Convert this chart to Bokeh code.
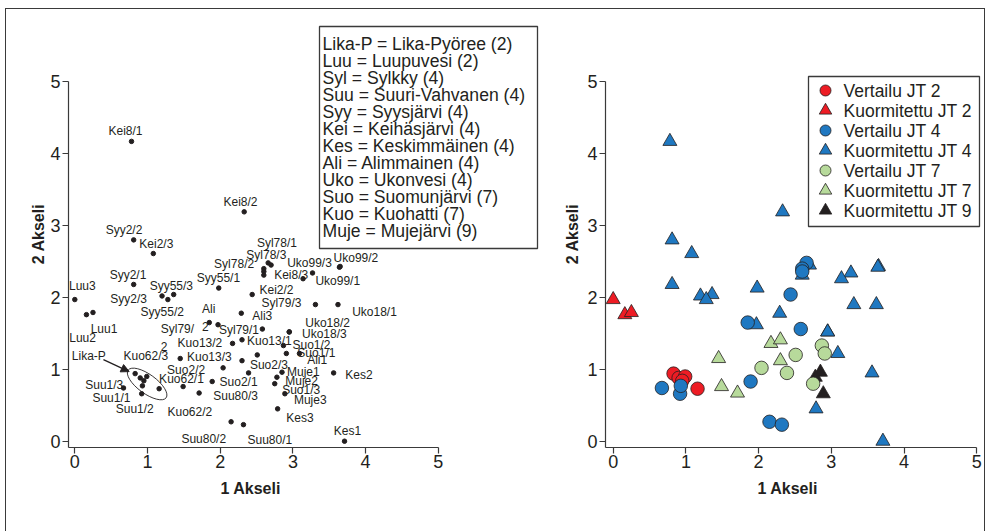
import math
from bokeh.plotting import figure
from bokeh.models import Range1d, FixedTicker, Title, Arrow, NormalHead, ColumnDataSource, Label
from bokeh.layouts import row
from bokeh.embed import file_html
from bokeh.resources import INLINE
from bokeh.core.properties import value

# ---------------- data ----------------
labels = ["Kei8/1", "Kei8/2", "Syy2/2", "Kei2/3", "Syl78/1", "Syl78/3", "Syl78/2", "", "",
          "Uko99/2", "Uko99/3", "Kei8/3", "Uko99/1", "Syy2/1", "Syy55/3", "Syy55/1", "Kei2/2",
          "Luu3", "Syy2/3", "Syy55/2", "Luu2", "Luu1", "Ali\n2", "Syl79/\n2", "Ali3", "Syl79/3",
          "Uko18/1", "Syl79/1", "Uko18/2", "Uko18/3", "Kuo13/2", "Kuo13/1", "Suo1/2", "Suo1/1",
          "Ali1", "Lika-P", "", "", "", "", "Kuo62/3", "Kuo13/3", "Suo2/2", "Suo2/3", "Muje1",
          "Kes2", "Kuo62/1", "Suo2/1", "Muje2", "Suo1/3", "Suu1/3", "Suu1/1", "Suu80/3", "Muje3",
          "Suu1/2", "Kuo62/2", "Kes3", "Kes1", "Suu80/2", "Suu80/1"]
axis1 = [0.78, 2.33, 0.81, 1.08, 2.66, 2.70, 2.60, 2.60, 2.60,
         3.65, 3.64, 3.27, 3.14, 0.81, 1.36, 1.98, 2.44,
         0.00, 1.20, 1.28, 0.16, 0.25, 1.85, 1.97, 2.29, 3.31,
         3.62, 2.58, 2.95, 2.95, 2.17, 2.30, 2.87, 2.91,
         3.09, 0.83, 0.90, 0.99, 0.95, 1.16, 1.45, 2.30, 2.04, 2.51, 2.85,
         3.56, 1.49, 2.39, 2.78, 2.75, 0.67, 0.92, 1.89, 2.89,
         0.93, 1.71, 2.79, 3.71, 2.15, 2.32]
axis2 = [4.17, 3.19, 2.80, 2.61, 2.48, 2.45, 2.40, 2.36, 2.31,
         2.43, 2.42, 2.34, 2.26, 2.18, 2.04, 2.13, 2.04,
         1.97, 2.02, 1.97, 1.76, 1.79, 1.65, 1.62, 1.78, 1.90,
         1.90, 1.56, 1.52, 1.52, 1.36, 1.41, 1.33, 1.22,
         1.22, 0.94, 0.88, 0.90, 0.84, 0.73, 1.15, 1.12, 1.02, 1.20, 0.96,
         0.95, 0.76, 0.95, 0.89, 0.80, 0.74, 0.66, 0.83, 0.66,
         0.77, 0.67, 0.45, 0.00, 0.27, 0.23]
groups = ["K4", "K4", "K4", "K4", "V4", "K4", "V4", "V4", "K4",
          "K4", "K4", "K4", "K4", "K4", "K4", "K4", "V4",
          "K2", "K4", "K4", "K2", "K2", "V4", "K4", "K4", "K4",
          "K4", "V4", "K4", "K4", "K7", "K7", "V7", "V7",
          "K4", "V2", "V2", "V2", "V2", "V2", "K7", "K7", "V7", "V7", "K9",
          "K4", "K7", "V7", "K9", "V7", "V4", "V4", "V4", "K9",
          "V4", "K7", "K4", "K4", "V4", "V4"]

legend_keys = ["V2", "K2", "V4", "K4", "V7", "K7", "K9"]
legend_names = ["Vertailu JT 2", "Kuormitettu JT 2", "Vertailu JT 4", "Kuormitettu JT 4",
                "Vertailu JT 7", "Kuormitettu JT 7", "Kuormitettu JT 9"]
abbrev_lines = ["Lika-P = Lika-Pyöree (2)", "Luu = Luupuvesi (2)", "Syl = Sylkky (4)",
                "Suu = Suuri-Vahvanen (4)", "Syy = Syysjärvi (4)", "Kei = Keihäsjärvi (4)",
                "Kes = Keskimmäinen (4)", "Ali = Alimmainen (4)", "Uko = Ukonvesi (4)",
                "Suo = Suomunjärvi (7)", "Kuo = Kuohatti (7)", "Muje = Mujejärvi (9)"]
xticks = [0, 1, 2, 3, 4, 5]
yticks = [0, 1, 2, 3, 4, 5]
x_title = "1 Akseli"
y_title = "2 Akseli"

# ---------------- label placement (pixels: right, down) ----------------
label_dx = [-23, -20.7, -28, -14, -11.3, -24.8, -49.7, 0, 0,
            -6.6, -52.3, -38.4, 12.3, -24, -24, -22, 7.3,
            -5.8, -51.7, -27.3, -17.2, -2.3, -7.3, -57.3, 11, -54,
            14.2, -43.4, 16, 12.7, -55, 5, 9, 11,
            7.7, -63.3, 0, 0, 0, 0, -56.7, -55, -56, -7.4, 5,
            11.7, -24, -29, 8.3, 7.4, -38.3, -49.3, 1, 9,
            -26.7, -31.6, 8.7, -10.7, -49.7, 4]
label_dy = [-10, -10.3, -10.3, -9.4, -19.8, -10.5, -4.7, 0, 0,
            -8, -4, 1.6, 2.7, -9.3, -9, -10, -5,
            -13.3, 2.6, 12.7, 23.4, 16.3, -4.5, 13.3, 2.3, -1.6,
            7.4, 1, -9.4, 1.6, 0, 0.7, -1, 0,
            6.7, -17.3, 0, 0, 0, 0, -2.3, -3.3, 2.3, 10, 0,
            2.3, -7.4, 9, 4, 6, -3.3, 4, 14.7, 6.7,
            23.3, 19.4, 9, -10, 17.3, 15]

# ---------------- styles / geometry (page pixels) ----------------
FONT = "Liberation Sans"
INK = "#231F20"
AX = "#3a3a3a"
colors = {"V2": "#ED1C24", "K2": "#ED1C24", "V4": "#1F78C1", "K4": "#1F78C1",
          "V7": "#B7DA9B", "K7": "#B7DA9B", "K9": "#231F20"}
markers = {"V2": "circle", "K2": "triangle", "V4": "circle", "K4": "triangle",
           "V7": "circle", "K7": "triangle", "K9": "triangle"}

SX, SY = 72.7, 71.9          # pixels per unit
Y0 = 440.7                   # page y of value 0
LX0, RX0 = 74.3, 612.7       # page x of value 0 (left / right plot)
PAGE_LEFT, PAGE_TOP = 5, 8   # outer frame position
C_LEFT, C_TOP = PAGE_LEFT + 1, PAGE_TOP + 1
SPLIT, C_RIGHT = 548, 984
H = 522
FRAME_TOP, FRAME_BOTTOM = 20, 447


def lx(px):
    return (px - LX0) / SX


def rx(px):
    return (px - RX0) / SX


def yy(py):
    return (Y0 - py) / SY


def style_axes(p, xstart, ystart, ytitle_standoff):
    p.xaxis.ticker = FixedTicker(ticks=xticks)
    p.yaxis.ticker = FixedTicker(ticks=yticks)
    p.xaxis.bounds = (xstart, xticks[-1])
    p.yaxis.bounds = (ystart, yticks[-1])
    for ax in (p.xaxis, p.yaxis):
        ax.axis_line_color = AX
        ax.axis_line_width = 1.2
        ax.major_tick_line_color = AX
        ax.major_tick_line_width = 1.2
        ax.major_tick_out = 6
        ax.major_tick_in = 0
        ax.minor_tick_line_color = None
        ax.major_label_text_font = FONT
        ax.major_label_text_font_size = "18px"
        ax.major_label_text_color = INK
    p.xaxis.major_label_standoff = 1
    p.yaxis.major_label_standoff = 2
    p.grid.visible = False
    p.outline_line_color = None
    p.add_layout(Title(text=x_title, align="left", offset=220 - 68, standoff=15,
                       text_font=FONT, text_font_size="16px", text_font_style="bold",
                       text_color=INK), "below")
    p.add_layout(Title(text=y_title, align="center", offset=-(264.5 - (FRAME_TOP + FRAME_BOTTOM) / 2),
                       standoff=ytitle_standoff, text_font=FONT, text_font_size="16px",
                       text_font_style="bold", text_color=INK), "left")


# ---------------- left plot ----------------
L_LEFT, L_RIGHT = 68, 545
p1 = figure(width=SPLIT - C_LEFT, height=H, output_backend="svg", toolbar_location=None,
            title=None, min_border_left=L_LEFT - C_LEFT, min_border_right=SPLIT - L_RIGHT,
            min_border_top=FRAME_TOP - C_TOP, min_border_bottom=C_TOP + H - FRAME_BOTTOM,
            x_range=Range1d(lx(L_LEFT), lx(L_RIGHT)),
            y_range=Range1d(yy(FRAME_BOTTOM), yy(FRAME_TOP)))
style_axes(p1, lx(L_LEFT), yy(FRAME_BOTTOM), 2)

src = ColumnDataSource(dict(x=axis1, y=axis2, text=labels, dx=label_dx, dy=label_dy))
p1.scatter("x", "y", source=src, size=4.5, fill_color=INK, line_color=INK)
p1.text("x", "y", text="text", x_offset="dx", y_offset="dy", source=src,
        text_font=value(FONT), text_font_size=value("12px"), text_color=INK,
        text_align="left", text_baseline="middle", text_line_height=1.25)

# Lika-P ellipse and arrow
lika = [i for i, g in enumerate(groups) if g == "V2"]
lk_x = [axis1[i] for i in lika]
lk_y = [axis2[i] for i in lika]
cx = (min(lk_x) + max(lk_x)) / 2
cy = (min(lk_y) + max(lk_y)) / 2 - 2.8 / SY
p1.ellipse(x=[cx], y=[cy], width=47 / SX, height=19 / SY, angle=-0.63,
           fill_color=None, line_color=INK, line_width=0.9)
il = labels.index("Lika-P")
p1.add_layout(Arrow(end=NormalHead(size=8, fill_color=INK, line_color=INK),
                    x_start=axis1[il] - 31.7 / SX, y_start=axis2[il] + 14 / SY,
                    x_end=axis1[il] - 6 / SX, y_end=axis2[il] + 2 / SY,
                    line_color=INK, line_width=1.3))

# abbreviation box
p1.quad(left=[lx(319)], right=[lx(537)], top=[yy(26)], bottom=[yy(248)],
        fill_color="white", line_color=AX, line_width=1.3)
for i, line in enumerate(abbrev_lines):
    p1.add_layout(Label(x=lx(322), y=yy(43 + 17 * i), text=line, text_font=FONT,
                        text_font_size="17.6px", text_color=INK, text_align="left",
                        text_baseline="middle"))

# ---------------- right plot ----------------
R_LEFT = 605
p2 = figure(width=C_RIGHT - SPLIT, height=H, output_backend="svg", toolbar_location=None,
            title=None, min_border_left=R_LEFT - SPLIT, min_border_right=0,
            min_border_top=FRAME_TOP - C_TOP, min_border_bottom=C_TOP + H - FRAME_BOTTOM,
            x_range=Range1d(rx(R_LEFT), rx(C_RIGHT)),
            y_range=Range1d(yy(FRAME_BOTTOM), yy(FRAME_TOP)))
style_axes(p2, rx(R_LEFT), yy(FRAME_BOTTOM), 8)

draw_order = ["K2", "V2", "K4", "V4", "K9", "K7", "V7"]
for g in draw_order:
    xs = [axis1[i] for i in range(len(groups)) if groups[i] == g]
    ys = [axis2[i] for i in range(len(groups)) if groups[i] == g]
    size = 13.5 if markers[g] == "circle" else 14
    p2.scatter(xs, ys, marker=markers[g], size=size, fill_color=colors[g],
               line_color=INK, line_width=0.8)

# legend box (drawn manually)
p2.quad(left=[rx(808)], right=[rx(979)], top=[yy(76)], bottom=[yy(226)],
        fill_color="white", line_color=AX, line_width=1.3)
for k, (key, name) in enumerate(zip(legend_keys, legend_names)):
    ly = yy(90 + 20 * k)
    size = 11 if markers[key] == "circle" else 12.5
    p2.scatter([rx(825)], [ly], marker=markers[key], size=size, fill_color=colors[key],
               line_color=INK, line_width=0.8)
    p2.text(x=[rx(843)], y=[ly], text=[name], text_font=value(FONT),
            text_font_size=value("17.5px"), text_color=INK, text_align="left",
            text_baseline="middle")

layout = row(p1, p2, spacing=0, margin=(PAGE_TOP, 0, 0, PAGE_LEFT),
             styles={"border-top": "1px solid #3a3a3a", "border-left": "1px solid #3a3a3a",
                     "border-right": "1px solid #3a3a3a"})
open("out.html", "w").write(file_html(layout, INLINE))
